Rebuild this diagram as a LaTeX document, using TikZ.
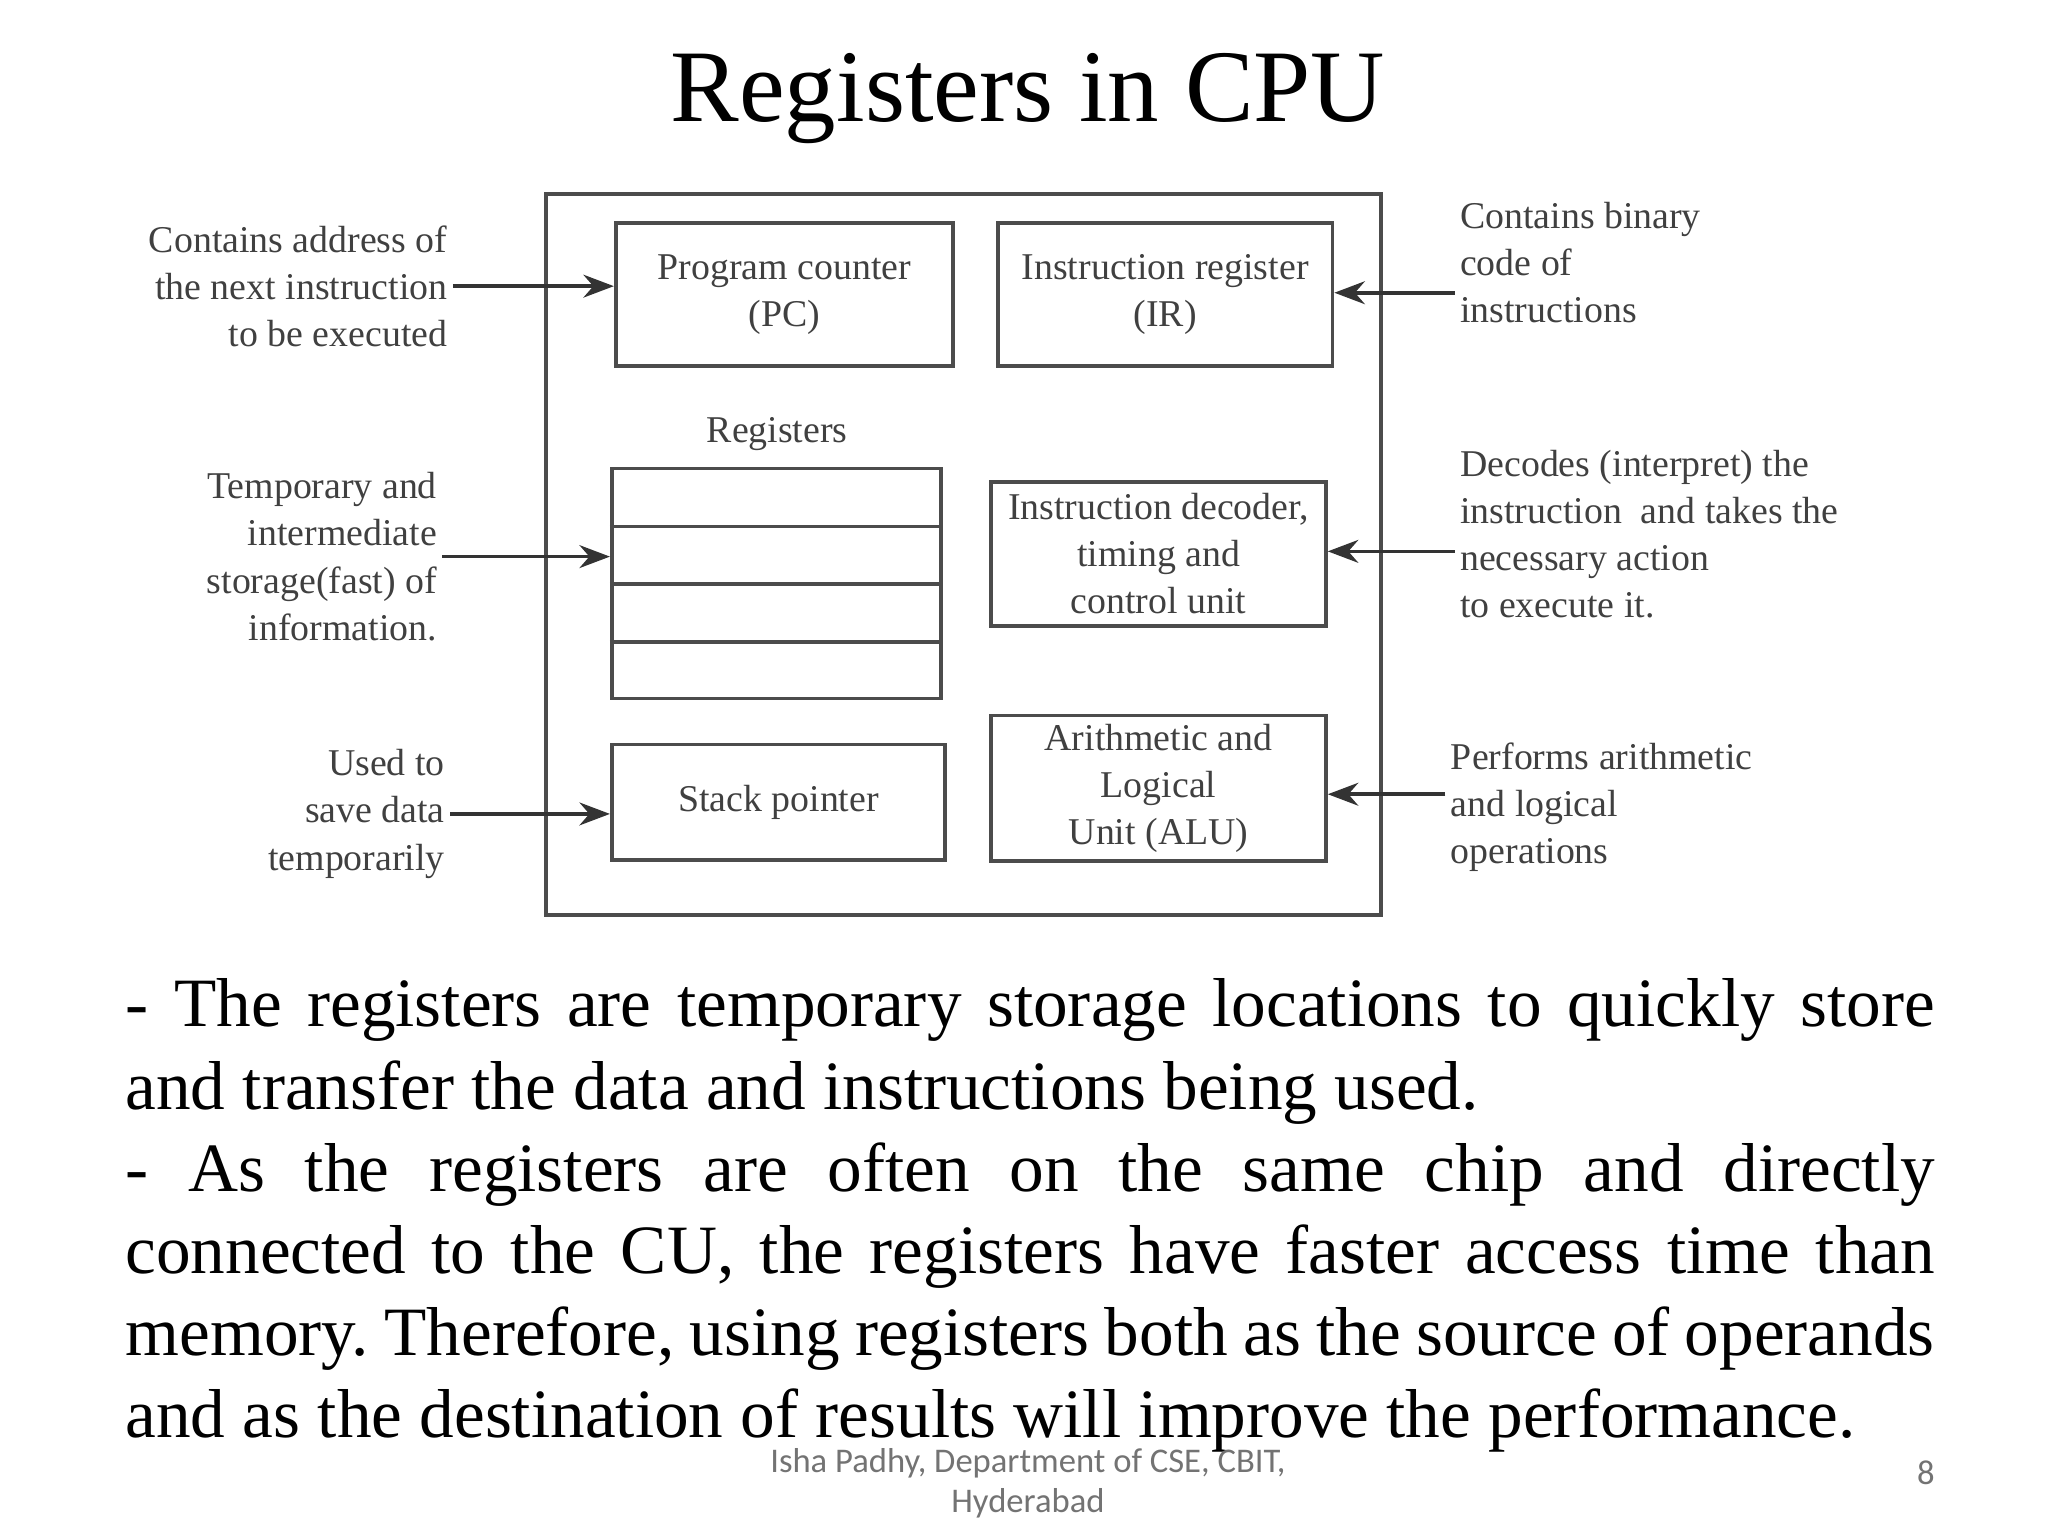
\documentclass[tikz,border=0pt]{standalone}
\usepackage{fontspec}
\setmainfont{Liberation Serif}
\newfontfamily\footfont{Carlito}
\usetikzlibrary{arrows.meta}
\hyphenpenalty=10000
\exhyphenpenalty=10000

\begin{document}
\begin{tikzpicture}[>=Stealth,
  unit/.style={draw=black!70, thick, align=center, text=black!75, font=\fontsize{8.2}{10.2}\selectfont, inner sep=0pt},
  note/.style={align=#1, text=black!75, font=\fontsize{8.2}{10.2}\selectfont, inner sep=1pt},
  feed/.style={->, thick, black!80}]
\useasboundingbox (0,0) rectangle (15.6,11.7);
\node (title) at (7.83,10.95) {\fontsize{22.3}{26}\selectfont Registers in CPU};
\draw[black!70, thick] (4.16,10.22) rectangle (10.52,4.73);
%Drawing units
\node[unit, minimum width=2.57cm, minimum height=1.09cm] (pc) at (5.975,9.455) {Program counter\\(PC)};
\node[unit, minimum width=2.55cm, minimum height=1.09cm] (ir) at (8.875,9.455) {Instruction register\\(IR)};
\node[note=center] (reglbl) at (5.92,8.39) {Registers};
\node[unit, minimum width=2.51cm, minimum height=1.75cm] (regs) at (5.915,7.255) {};
\draw[black!70, thick] (regs.west |- 0,7.69) -- (regs.east |- 0,7.69);
\draw[black!70, thick] (regs.west |- 0,7.25) -- (regs.east |- 0,7.25);
\draw[black!70, thick] (regs.west |- 0,6.81) -- (regs.east |- 0,6.81);
\node[unit, minimum width=2.55cm, minimum height=1.10cm] (dec) at (8.825,7.48) {Instruction decoder,\\timing and\\control unit};
\node[unit, minimum width=2.54cm, minimum height=0.88cm] (sp) at (5.93,5.59) {Stack pointer};
\node[unit, minimum width=2.55cm, minimum height=1.11cm] (alu) at (8.825,5.695) {Arithmetic and\\Logical\\Unit (ALU)};
%Drawing notes
\node[note=right, anchor=east] (lpc) at (3.45,9.52) {Contains address of\\the next instruction\\to be executed};
\node[note=right, anchor=east] (lreg) at (3.37,7.46) {Temporary and\\intermediate\\storage(fast) of\\information.};
\node[note=right, anchor=east] (lsp) at (3.43,5.5) {Used to\\save data\\temporarily};
\node[note=left, anchor=west] (rir) at (11.08,9.70) {Contains binary\\code of\\instructions};
\node[note=left, anchor=west] (rdec) at (11.08,7.63) {Decodes (interpret) the\\instruction\ \ and takes the\\necessary action\\to execute it.};
\node[note=left, anchor=west] (ralu) at (11.01,5.55) {Performs arithmetic\\and logical\\operations};
%Drawing arrows
\draw[feed] (lpc.east) -- (lpc.east -| pc.west);
\draw[feed] (lreg.east) -- (lreg.east -| regs.west);
\draw[feed] (lsp.east) -- (lsp.east -| sp.west);
\draw[feed] (rir.west |- 0,9.47) -- (ir.east |- 0,9.47);
\draw[feed] (rdec.west |- 0,7.50) -- (dec.east |- 0,7.50);
\draw[feed] (ralu.west |- 0,5.65) -- (alu.east |- 0,5.65);
%Text
\node[anchor=north west, text width=13.78cm, align=justify, inner sep=0pt, font=\fontsize{15}{17.8}\selectfont\frenchspacing] (body) at (0.95,4.25)
 {- The registers are temporary storage locations to quickly store\linebreak
  and transfer the data and instructions being used.\\
  - As the registers are often on the same chip and directly\linebreak
  connected to the CU, the registers have faster access time than\linebreak
  memory. Therefore, using registers both as the source of operands\linebreak
  and as the destination of results will improve the performance.};
\node[align=center, text=black!55, font=\footfont\fontsize{7.5}{8.6}\selectfont] (foot) at (7.83,0.4) {Isha Padhy, Department of CSE, CBIT,\\Hyderabad};
\node[text=black!55, font=\footfont\fontsize{7.5}{9}\selectfont] (page) at (14.67,0.48) {8};
\end{tikzpicture}
\end{document}
